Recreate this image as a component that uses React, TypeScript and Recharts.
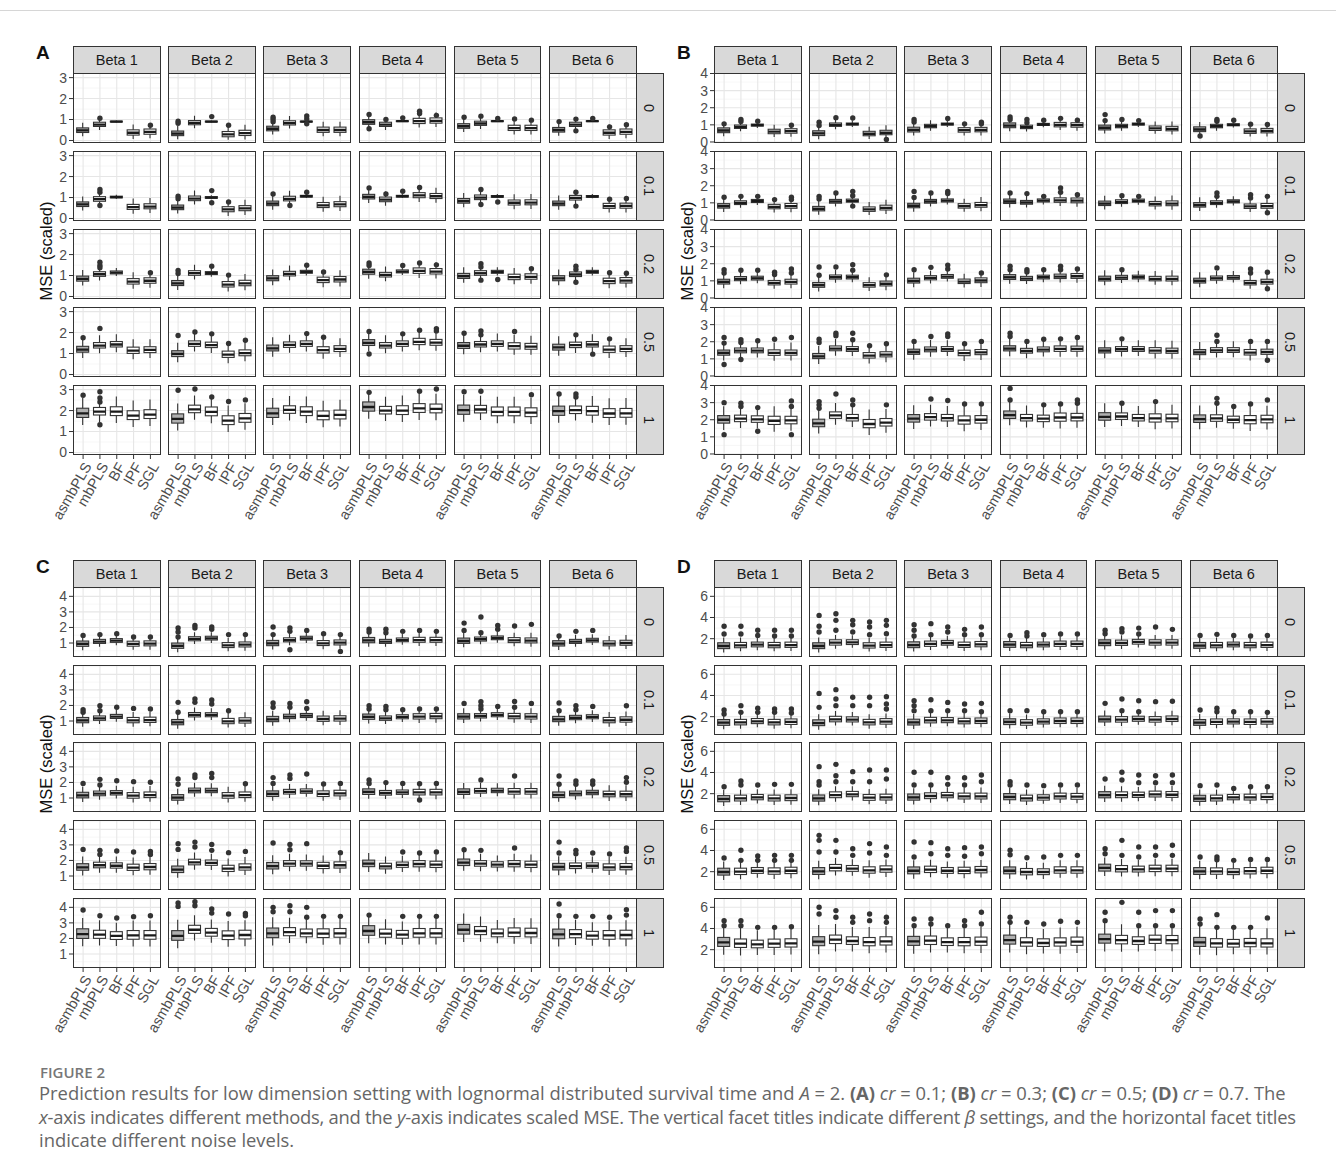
import React from 'react';
import { ComposedChart, Bar, Scatter, XAxis, YAxis, CartesianGrid } from 'recharts';

// ---- labels ----
const methods = ['asmbPLS', 'mbPLS', 'BF', 'IPF', 'SGL'];
const betas = ['Beta 1', 'Beta 2', 'Beta 3', 'Beta 4', 'Beta 5', 'Beta 6'];
const noiseLevels = ['0', '0.1', '0.2', '0.5', '1'];

// ---- medians: [noise row][beta][method] ----
const medA = [
  [[0.48, 0.76, 0.9, 0.37, 0.41], [0.33, 0.84, 0.9, 0.29, 0.35], [0.56, 0.83, 0.9, 0.5, 0.5], [0.87, 0.76, 0.92, 0.92, 0.94], [0.68, 0.81, 0.92, 0.59, 0.59], [0.5, 0.76, 0.92, 0.37, 0.41]],
  [[0.67, 0.92, 1.02, 0.54, 0.57], [0.52, 0.95, 1.0, 0.43, 0.48], [0.71, 0.94, 1.06, 0.63, 0.67], [1.03, 0.9, 1.06, 1.1, 1.06], [0.83, 1.0, 1.05, 0.75, 0.76], [0.71, 0.98, 1.05, 0.59, 0.6]],
  [[0.84, 1.06, 1.14, 0.71, 0.75], [0.63, 1.11, 1.11, 0.57, 0.63], [0.86, 1.08, 1.17, 0.78, 0.81], [1.17, 1.03, 1.19, 1.22, 1.19], [0.97, 1.11, 1.17, 0.92, 0.94], [0.86, 1.05, 1.17, 0.73, 0.76]],
  [[1.19, 1.38, 1.43, 1.14, 1.17], [0.98, 1.46, 1.4, 0.95, 1.02], [1.25, 1.41, 1.46, 1.16, 1.22], [1.51, 1.38, 1.46, 1.56, 1.52], [1.37, 1.43, 1.46, 1.35, 1.33], [1.29, 1.4, 1.43, 1.19, 1.22]],
  [[1.87, 1.95, 1.95, 1.76, 1.81], [1.6, 2.06, 1.94, 1.52, 1.63], [1.87, 2.03, 1.95, 1.75, 1.79], [2.17, 2.0, 2.0, 2.1, 2.08], [2.02, 2.05, 1.94, 1.94, 1.9], [1.97, 2.02, 1.97, 1.86, 1.87]],
];
const medB = [
  [[0.67, 0.88, 0.98, 0.6, 0.63], [0.5, 1.0, 1.04, 0.48, 0.54], [0.71, 0.92, 1.04, 0.69, 0.71], [0.96, 0.87, 1.02, 1.0, 0.98], [0.83, 0.92, 1.04, 0.79, 0.77], [0.73, 0.92, 1.0, 0.62, 0.65]],
  [[0.81, 1.0, 1.1, 0.77, 0.81], [0.65, 1.08, 1.12, 0.62, 0.71], [0.83, 1.08, 1.13, 0.81, 0.87], [1.08, 1.02, 1.13, 1.15, 1.13], [0.96, 1.06, 1.12, 0.94, 0.96], [0.87, 1.0, 1.08, 0.79, 0.81]],
  [[0.94, 1.12, 1.15, 0.88, 0.94], [0.75, 1.21, 1.21, 0.75, 0.83], [1.0, 1.17, 1.25, 0.96, 1.02], [1.21, 1.13, 1.21, 1.25, 1.27], [1.12, 1.19, 1.21, 1.12, 1.12], [1.0, 1.15, 1.19, 0.88, 0.94]],
  [[1.35, 1.48, 1.48, 1.35, 1.35], [1.15, 1.6, 1.56, 1.19, 1.25], [1.4, 1.54, 1.56, 1.33, 1.38], [1.6, 1.46, 1.54, 1.58, 1.58], [1.48, 1.56, 1.56, 1.48, 1.46], [1.38, 1.5, 1.5, 1.37, 1.4]],
  [[2.0, 2.06, 2.02, 1.94, 1.96], [1.79, 2.25, 2.1, 1.75, 1.83], [2.06, 2.15, 2.1, 1.96, 2.0], [2.27, 2.1, 2.06, 2.13, 2.13], [2.17, 2.19, 2.1, 2.08, 2.08], [2.04, 2.08, 2.0, 1.98, 2.02]],
];
const medC = [
  [[0.94, 1.09, 1.15, 0.94, 0.96], [0.81, 1.26, 1.3, 0.85, 0.89], [0.98, 1.19, 1.3, 0.98, 1.02], [1.17, 1.09, 1.19, 1.19, 1.19], [1.13, 1.24, 1.32, 1.17, 1.15], [0.96, 1.09, 1.17, 0.96, 1.0]],
  [[1.04, 1.17, 1.28, 1.04, 1.06], [0.91, 1.39, 1.39, 0.98, 1.02], [1.11, 1.28, 1.34, 1.13, 1.15], [1.26, 1.17, 1.26, 1.28, 1.3], [1.28, 1.32, 1.39, 1.3, 1.28], [1.11, 1.21, 1.26, 1.04, 1.08]],
  [[1.17, 1.28, 1.32, 1.15, 1.19], [1.02, 1.47, 1.47, 1.15, 1.19], [1.26, 1.39, 1.43, 1.26, 1.3], [1.39, 1.32, 1.36, 1.36, 1.36], [1.39, 1.45, 1.47, 1.41, 1.41], [1.19, 1.28, 1.34, 1.24, 1.24]],
  [[1.56, 1.69, 1.66, 1.54, 1.58], [1.41, 1.88, 1.84, 1.47, 1.56], [1.64, 1.79, 1.79, 1.66, 1.69], [1.79, 1.62, 1.71, 1.77, 1.73], [1.86, 1.79, 1.73, 1.77, 1.73], [1.58, 1.64, 1.66, 1.56, 1.58]],
  [[2.28, 2.24, 2.16, 2.2, 2.2], [2.16, 2.56, 2.37, 2.18, 2.22], [2.33, 2.41, 2.33, 2.31, 2.33], [2.48, 2.31, 2.24, 2.33, 2.33], [2.56, 2.48, 2.33, 2.37, 2.35], [2.26, 2.28, 2.18, 2.2, 2.22]],
];
const medD = [
  [[1.31, 1.37, 1.43, 1.37, 1.4], [1.31, 1.62, 1.65, 1.34, 1.4], [1.4, 1.5, 1.59, 1.4, 1.46], [1.43, 1.37, 1.43, 1.5, 1.5], [1.59, 1.59, 1.69, 1.62, 1.62], [1.34, 1.37, 1.43, 1.37, 1.4]],
  [[1.43, 1.46, 1.56, 1.46, 1.5], [1.4, 1.75, 1.72, 1.46, 1.53], [1.46, 1.65, 1.65, 1.56, 1.59], [1.5, 1.43, 1.53, 1.59, 1.59], [1.75, 1.72, 1.78, 1.72, 1.78], [1.43, 1.5, 1.53, 1.5, 1.53]],
  [[1.5, 1.56, 1.65, 1.56, 1.59], [1.56, 1.87, 1.94, 1.62, 1.65], [1.65, 1.78, 1.84, 1.75, 1.75], [1.69, 1.56, 1.62, 1.75, 1.72], [1.87, 1.87, 1.87, 1.94, 1.9], [1.53, 1.56, 1.65, 1.65, 1.69]],
  [[1.97, 2.0, 2.09, 2.03, 2.09], [2.03, 2.35, 2.28, 2.13, 2.22], [2.09, 2.19, 2.09, 2.09, 2.16], [2.09, 1.97, 1.97, 2.13, 2.13], [2.35, 2.25, 2.22, 2.28, 2.28], [2.03, 2.03, 1.97, 2.06, 2.09]],
  [[2.69, 2.57, 2.5, 2.57, 2.6], [2.76, 2.94, 2.82, 2.72, 2.79], [2.79, 2.85, 2.72, 2.72, 2.76], [2.91, 2.69, 2.63, 2.69, 2.76], [3.0, 2.91, 2.82, 2.94, 2.91], [2.69, 2.6, 2.57, 2.63, 2.6]],
];

// ---- box heights (IQR) and whisker reach beyond the box, per noise row and method ----
const iqrA = [[0.22, 0.2, 0.04, 0.25, 0.25], [0.22, 0.22, 0.08, 0.24, 0.24], [0.24, 0.22, 0.14, 0.26, 0.26], [0.28, 0.26, 0.26, 0.3, 0.28], [0.44, 0.36, 0.42, 0.42, 0.42]];
const whA = [[0.42, 0.4, 0.06, 0.45, 0.45], [0.45, 0.45, 0.12, 0.48, 0.48], [0.5, 0.48, 0.25, 0.52, 0.52], [0.65, 0.6, 0.6, 0.65, 0.62], [0.85, 0.8, 0.85, 0.85, 0.85]];
const iqrB = [[0.28, 0.2, 0.12, 0.26, 0.26], [0.26, 0.22, 0.18, 0.26, 0.28], [0.28, 0.24, 0.22, 0.26, 0.28], [0.3, 0.28, 0.28, 0.32, 0.3], [0.44, 0.38, 0.38, 0.48, 0.44]];
const whB = [[0.5, 0.4, 0.25, 0.45, 0.5], [0.55, 0.45, 0.35, 0.5, 0.55], [0.6, 0.5, 0.45, 0.55, 0.6], [0.75, 0.7, 0.65, 0.75, 0.75], [0.95, 0.9, 0.85, 1.0, 0.95]];
const iqrC = [[0.34, 0.26, 0.24, 0.32, 0.32], [0.34, 0.28, 0.26, 0.34, 0.34], [0.36, 0.3, 0.28, 0.36, 0.36], [0.42, 0.36, 0.34, 0.4, 0.4], [0.62, 0.52, 0.5, 0.56, 0.56]];
const whC = [[0.6, 0.5, 0.45, 0.55, 0.58], [0.62, 0.55, 0.5, 0.6, 0.6], [0.65, 0.6, 0.55, 0.65, 0.65], [0.8, 0.75, 0.7, 0.75, 0.75], [1.2, 1.1, 1.0, 1.1, 1.1]];
const iqrD = [[0.55, 0.5, 0.45, 0.5, 0.5], [0.55, 0.52, 0.48, 0.52, 0.52], [0.58, 0.55, 0.5, 0.55, 0.55], [0.65, 0.6, 0.55, 0.6, 0.6], [0.85, 0.8, 0.72, 0.78, 0.78]];
const whD = [[0.85, 0.8, 0.75, 0.8, 0.8], [0.9, 0.85, 0.8, 0.85, 0.85], [0.95, 0.9, 0.85, 0.9, 0.9], [1.1, 1.05, 1.0, 1.05, 1.05], [1.9, 1.8, 1.6, 1.7, 1.7]];

// ---- outliers: [row, beta, method, ...values] ----
const outA = [
  [0, 0, 1, 1.06], [0, 0, 4, 0.73],
  [0, 1, 0, 0.92, 0.82], [0, 1, 2, 1.14], [0, 1, 3, 0.73],
  [0, 2, 0, 1.11, 1.0, 0.89], [0, 2, 2, 1.17, 1.03, 0.8],
  [0, 3, 0, 1.24, 0.56], [0, 3, 1, 1.0], [0, 3, 2, 1.08], [0, 3, 3, 1.4, 1.29], [0, 3, 4, 1.2],
  [0, 4, 0, 1.11], [0, 4, 1, 1.16], [0, 4, 2, 1.05], [0, 4, 3, 1.03], [0, 4, 4, 0.97],
  [0, 5, 0, 0.9], [0, 5, 1, 1.02, 0.46], [0, 5, 2, 1.05], [0, 5, 3, 0.65], [0, 5, 4, 0.75],
  [1, 0, 1, 1.38, 1.25, 0.62],
  [1, 1, 0, 1.06, 0.94], [1, 1, 2, 1.33, 0.75], [1, 1, 3, 0.79],
  [1, 2, 0, 1.17], [1, 2, 1, 0.62], [1, 2, 2, 1.25],
  [1, 3, 0, 1.46], [1, 3, 1, 1.17], [1, 3, 2, 1.3], [1, 3, 3, 1.48],
  [1, 4, 1, 1.38, 0.67], [1, 4, 2, 0.79],
  [1, 5, 1, 1.25, 0.59], [1, 5, 3, 0.92], [1, 5, 4, 0.95],
  [2, 0, 1, 1.63, 1.48, 1.37], [2, 0, 4, 1.13],
  [2, 1, 0, 1.24, 1.1], [2, 1, 2, 1.44], [2, 1, 3, 1.02],
  [2, 2, 2, 1.49], [2, 2, 3, 1.17],
  [2, 3, 0, 1.6, 1.48], [2, 3, 2, 1.48], [2, 3, 3, 1.6], [2, 3, 4, 1.51],
  [2, 4, 1, 1.56, 1.41, 0.78], [2, 4, 2, 0.81], [2, 4, 4, 1.32],
  [2, 5, 1, 1.44, 1.29, 0.68], [2, 5, 3, 1.13], [2, 5, 4, 1.11],
  [3, 0, 0, 1.75], [3, 0, 1, 2.2],
  [3, 1, 0, 1.86], [3, 1, 1, 2.03], [3, 1, 2, 1.94], [3, 1, 3, 1.48], [3, 1, 4, 1.63],
  [3, 2, 2, 1.95], [3, 2, 3, 1.78],
  [3, 3, 0, 2.05, 0.98], [3, 3, 2, 1.94], [3, 3, 3, 2.11], [3, 3, 4, 2.19, 2.08],
  [3, 4, 0, 1.97], [3, 4, 1, 2.08, 1.89], [3, 4, 3, 2.05],
  [3, 5, 1, 1.89], [3, 5, 2, 0.97], [3, 5, 3, 1.7],
  [4, 0, 0, 2.73], [4, 0, 1, 2.9, 2.6, 2.41, 1.32],
  [4, 1, 0, 2.97], [4, 1, 1, 3.03], [4, 1, 2, 2.65], [4, 1, 3, 2.43], [4, 1, 4, 2.51],
  [4, 3, 0, 2.87], [4, 3, 3, 2.92], [4, 3, 4, 3.03],
  [4, 4, 0, 2.9], [4, 4, 1, 2.92], [4, 4, 4, 2.76],
  [4, 5, 0, 2.79], [4, 5, 1, 2.79, 2.65],
];
const outB = [
  [0, 0, 0, 1.06], [0, 0, 1, 1.31, 1.19], [0, 0, 2, 1.21], [0, 0, 4, 0.98],
  [0, 1, 0, 1.15, 0.96], [0, 1, 1, 1.42], [0, 1, 2, 1.4], [0, 1, 4, 0.15],
  [0, 2, 0, 1.31, 1.17], [0, 2, 2, 1.37], [0, 2, 3, 1.06], [0, 2, 4, 1.15, 1.06],
  [0, 3, 0, 1.46, 1.31], [0, 3, 1, 1.31, 1.12], [0, 3, 2, 1.27], [0, 3, 3, 1.38], [0, 3, 4, 1.27],
  [0, 4, 0, 1.6, 1.25], [0, 4, 1, 1.31], [0, 4, 2, 1.25],
  [0, 5, 0, 0.35], [0, 5, 1, 1.31, 1.21], [0, 5, 2, 1.27], [0, 5, 3, 1.04], [0, 5, 4, 1.02],
  [1, 0, 0, 1.33], [1, 0, 1, 1.38], [1, 0, 2, 1.38], [1, 0, 3, 1.19], [1, 0, 4, 1.33, 1.19],
  [1, 1, 0, 1.38, 1.23], [1, 1, 1, 1.58], [1, 1, 2, 1.67, 1.42, 0.81],
  [1, 2, 0, 1.67, 1.31], [1, 2, 1, 1.58], [1, 2, 2, 1.67, 1.54],
  [1, 3, 0, 1.58], [1, 3, 1, 1.54], [1, 3, 2, 1.38], [1, 3, 3, 1.87, 1.62], [1, 3, 4, 1.48],
  [1, 4, 1, 1.42], [1, 4, 2, 1.38],
  [1, 5, 1, 1.58, 1.38], [1, 5, 3, 1.48, 1.29], [1, 5, 4, 1.38, 0.42],
  [2, 0, 0, 1.65, 1.46], [2, 0, 1, 1.62], [2, 0, 2, 1.62], [2, 0, 3, 1.5, 1.37], [2, 0, 4, 1.69, 1.46],
  [2, 1, 0, 1.81, 1.33], [2, 1, 1, 1.81], [2, 1, 2, 1.94, 1.62], [2, 1, 4, 1.35],
  [2, 2, 0, 1.65], [2, 2, 1, 1.79], [2, 2, 2, 1.92, 1.69], [2, 2, 4, 1.46],
  [2, 3, 0, 1.85, 1.65], [2, 3, 1, 1.65, 1.52], [2, 3, 2, 1.65], [2, 3, 3, 1.85, 1.65], [2, 3, 4, 1.69],
  [2, 4, 1, 1.65],
  [2, 5, 1, 1.75], [2, 5, 3, 1.69, 1.46], [2, 5, 4, 1.5, 0.54],
  [3, 0, 0, 2.25, 1.92, 0.67], [3, 0, 1, 2.12, 1.96, 0.96], [3, 0, 2, 2.06], [3, 0, 3, 2.15], [3, 0, 4, 2.25],
  [3, 1, 0, 2.15, 1.96], [3, 1, 1, 2.5, 2.35], [3, 1, 2, 2.5, 2.12], [3, 1, 3, 1.77], [3, 1, 4, 1.88],
  [3, 2, 0, 2.02], [3, 2, 1, 2.31], [3, 2, 2, 2.46, 2.31], [3, 2, 3, 1.88], [3, 2, 4, 2.02],
  [3, 3, 0, 2.5, 2.31], [3, 3, 1, 2.02], [3, 3, 2, 2.15], [3, 3, 3, 2.17], [3, 3, 4, 2.25],
  [3, 4, 1, 2.17],
  [3, 5, 1, 2.38, 2.02], [3, 5, 3, 2.02], [3, 5, 4, 2.02, 0.92],
  [4, 0, 0, 3.0, 1.13], [4, 0, 1, 2.96, 2.77], [4, 0, 2, 2.71, 1.33], [4, 0, 4, 3.1, 2.77, 1.13],
  [4, 1, 0, 3.06, 2.87, 2.67], [4, 1, 1, 3.5], [4, 1, 2, 3.15, 2.87], [4, 1, 4, 2.87],
  [4, 2, 1, 3.21], [4, 2, 2, 3.12], [4, 2, 3, 2.92], [4, 2, 4, 2.92],
  [4, 3, 0, 3.83, 3.15], [4, 3, 2, 2.87], [4, 3, 3, 2.92], [4, 3, 4, 3.15, 2.96],
  [4, 4, 1, 2.96], [4, 4, 3, 3.06],
  [4, 5, 1, 3.25, 2.96], [4, 5, 2, 2.77], [4, 5, 3, 2.92], [4, 5, 4, 3.15],
];
const outC = [
  [0, 0, 0, 1.49], [0, 0, 1, 1.54], [0, 0, 2, 1.6], [0, 0, 3, 1.39], [0, 0, 4, 1.39],
  [0, 1, 0, 1.96, 1.71, 1.39], [0, 1, 1, 2.13, 1.96], [0, 1, 2, 2.03, 1.88], [0, 1, 3, 1.54], [0, 1, 4, 1.54],
  [0, 2, 0, 2.03, 1.54], [0, 2, 1, 1.96, 1.75, 0.57], [0, 2, 2, 1.81], [0, 2, 3, 1.6], [0, 2, 4, 1.54, 0.46],
  [0, 3, 0, 1.88, 1.71], [0, 3, 1, 1.88, 1.66], [0, 3, 2, 1.75], [0, 3, 3, 1.81], [0, 3, 4, 1.75],
  [0, 4, 0, 2.28, 1.81], [0, 4, 1, 2.67, 1.66], [0, 4, 2, 2.13, 1.88], [0, 4, 3, 2.09], [0, 4, 4, 2.2],
  [0, 5, 0, 1.45], [0, 5, 1, 1.75], [0, 5, 2, 1.81],
  [1, 0, 0, 1.73, 1.56], [1, 0, 1, 1.98, 1.66], [1, 0, 2, 1.88], [1, 0, 3, 1.81], [1, 0, 4, 1.77],
  [1, 1, 0, 2.2, 1.56], [1, 1, 1, 2.41, 2.2], [1, 1, 2, 2.35, 2.09], [1, 1, 3, 1.66],
  [1, 2, 0, 2.16, 1.88], [1, 2, 1, 2.13, 1.88], [1, 2, 2, 2.24, 1.81],
  [1, 3, 0, 1.98, 1.77], [1, 3, 1, 1.94, 1.73], [1, 3, 2, 1.73], [1, 3, 3, 1.77], [1, 3, 4, 1.77],
  [1, 4, 0, 2.13], [1, 4, 1, 2.24, 1.98, 1.77], [1, 4, 2, 1.94], [1, 4, 3, 2.26, 1.88], [1, 4, 4, 2.13],
  [1, 5, 0, 2.16, 1.66], [1, 5, 1, 1.98, 1.73], [1, 5, 2, 1.94], [1, 5, 4, 1.98],
  [2, 0, 0, 1.94], [2, 0, 1, 2.2, 1.84], [2, 0, 2, 2.11], [2, 0, 3, 2.05], [2, 0, 4, 2.01],
  [2, 1, 0, 2.22, 1.88], [2, 1, 1, 2.48, 2.31], [2, 1, 2, 2.58, 2.31], [2, 1, 4, 1.92],
  [2, 2, 0, 2.31, 1.94], [2, 2, 1, 2.48, 2.26], [2, 2, 2, 2.54], [2, 2, 3, 1.9], [2, 2, 4, 1.94],
  [2, 3, 0, 2.16, 1.94], [2, 3, 1, 1.99], [2, 3, 2, 1.94], [2, 3, 3, 1.92, 0.87], [2, 3, 4, 1.94],
  [2, 4, 1, 2.16], [2, 4, 3, 2.41],
  [2, 5, 0, 2.41, 1.88], [2, 5, 1, 2.09, 1.88], [2, 5, 2, 2.09, 1.88], [2, 5, 4, 2.31, 2.01],
  [3, 0, 0, 2.71], [3, 0, 1, 2.65, 2.39], [3, 0, 2, 2.61], [3, 0, 3, 2.54], [3, 0, 4, 2.58, 2.39],
  [3, 1, 0, 3.08, 2.71], [3, 1, 1, 3.18, 2.86], [3, 1, 2, 3.03, 2.65], [3, 1, 3, 2.5], [3, 1, 4, 2.58],
  [3, 2, 0, 3.12], [3, 2, 1, 3.03, 2.69], [3, 2, 2, 3.08], [3, 2, 4, 2.5],
  [3, 3, 2, 2.54], [3, 3, 3, 2.48], [3, 3, 4, 2.54],
  [3, 4, 0, 2.69], [3, 4, 1, 2.65], [3, 4, 3, 2.8],
  [3, 5, 0, 3.18, 2.48], [3, 5, 1, 2.65, 2.43], [3, 5, 2, 2.48], [3, 5, 3, 2.41], [3, 5, 4, 2.8, 2.58],
  [4, 0, 0, 3.83], [4, 0, 1, 3.46], [4, 0, 2, 3.31], [4, 0, 3, 3.4], [4, 0, 4, 3.46],
  [4, 1, 0, 4.28, 4.06], [4, 1, 1, 4.36, 4.1], [4, 1, 2, 3.89, 3.63], [4, 1, 3, 3.57], [4, 1, 4, 3.61, 3.46],
  [4, 2, 0, 4.0, 3.72], [4, 2, 1, 4.1, 3.72], [4, 2, 2, 4.0, 3.36], [4, 2, 3, 3.42], [4, 2, 4, 3.42],
  [4, 3, 0, 3.5], [4, 3, 2, 3.42], [4, 3, 3, 3.42], [4, 3, 4, 3.42],
  [4, 5, 0, 4.21, 3.46], [4, 5, 1, 3.42], [4, 5, 2, 3.42], [4, 5, 3, 3.36], [4, 5, 4, 3.85, 3.5],
];
const outD = [
  [0, 0, 0, 3.17, 2.44], [0, 0, 1, 3.17, 2.44], [0, 0, 2, 2.79, 2.31], [0, 0, 3, 2.79, 2.25], [0, 0, 4, 2.79, 2.25],
  [0, 1, 0, 4.2, 3.17, 2.63], [0, 1, 1, 4.36, 3.73, 2.79], [0, 1, 2, 3.73, 3.32, 2.63], [0, 1, 3, 3.57, 3.1, 2.38], [0, 1, 4, 3.73, 3.26, 2.47],
  [0, 2, 0, 3.32, 2.79, 2.25], [0, 2, 1, 3.42, 2.38], [0, 2, 2, 3.1, 2.63], [0, 2, 3, 2.88, 2.38], [0, 2, 4, 3.1, 2.38],
  [0, 3, 0, 2.31], [0, 3, 1, 2.57, 2.25], [0, 3, 2, 2.38], [0, 3, 3, 2.44], [0, 3, 4, 2.44],
  [0, 4, 0, 2.79, 2.47], [0, 4, 1, 2.94, 2.63], [0, 4, 2, 3.0, 2.44], [0, 4, 3, 3.1], [0, 4, 4, 2.88],
  [0, 5, 0, 2.31], [0, 5, 1, 2.41], [0, 5, 2, 2.31], [0, 5, 3, 2.25], [0, 5, 4, 2.31],
  [1, 0, 0, 2.63, 2.25], [1, 0, 1, 3.04, 2.41], [1, 0, 2, 2.79, 2.41], [1, 0, 3, 2.72, 2.41], [1, 0, 4, 2.72, 2.35],
  [1, 1, 0, 4.2, 2.88], [1, 1, 1, 4.55, 3.67, 3.04], [1, 1, 2, 3.83, 3.04], [1, 1, 3, 3.83, 3.04], [1, 1, 4, 3.89, 3.2, 2.72],
  [1, 2, 0, 3.51, 3.04, 2.57], [1, 2, 1, 3.6, 2.57], [1, 2, 2, 3.35, 2.57], [1, 2, 3, 3.2, 2.57], [1, 2, 4, 3.26, 2.47],
  [1, 3, 0, 2.57], [1, 3, 1, 2.57], [1, 3, 2, 2.47], [1, 3, 3, 2.47], [1, 3, 4, 2.47],
  [1, 4, 0, 3.26], [1, 4, 1, 3.67, 2.57], [1, 4, 2, 3.51, 2.47], [1, 4, 3, 3.42], [1, 4, 4, 3.45],
  [1, 5, 0, 2.63], [1, 5, 1, 2.79, 2.47], [1, 5, 2, 2.47], [1, 5, 3, 2.47], [1, 5, 4, 2.41],
  [2, 0, 0, 2.66], [2, 0, 1, 3.2, 2.82], [2, 0, 2, 2.82], [2, 0, 3, 2.88], [2, 0, 4, 2.88],
  [2, 1, 0, 4.55, 3.13, 2.82], [2, 1, 1, 4.77, 3.7, 3.13], [2, 1, 2, 4.08, 3.13], [2, 1, 3, 4.24, 3.13], [2, 1, 4, 4.24, 3.39],
  [2, 2, 0, 4.02, 2.82], [2, 2, 1, 4.02, 2.82], [2, 2, 2, 3.51, 2.88], [2, 2, 3, 3.51, 2.82], [2, 2, 4, 3.76, 3.13],
  [2, 3, 0, 3.13, 2.82], [2, 3, 1, 2.82], [2, 3, 2, 2.76], [2, 3, 3, 2.82], [2, 3, 4, 2.82],
  [2, 4, 0, 3.39], [2, 4, 1, 4.02, 3.29], [2, 4, 2, 3.76, 3.04], [2, 4, 3, 3.7, 3.04], [2, 4, 4, 3.76, 3.04],
  [2, 5, 0, 2.76], [2, 5, 1, 2.82], [2, 5, 2, 2.5], [2, 5, 3, 2.66], [2, 5, 4, 2.66],
  [3, 0, 0, 3.29], [3, 0, 1, 4.02, 3.07], [3, 0, 2, 3.48, 3.07], [3, 0, 3, 3.54, 3.07], [3, 0, 4, 3.54, 3.07],
  [3, 1, 0, 5.43, 4.96, 3.86], [3, 1, 1, 4.96, 3.86], [3, 1, 2, 4.17, 3.54], [3, 1, 3, 4.65, 3.76], [3, 1, 4, 4.33, 3.54],
  [3, 2, 0, 4.8, 3.39], [3, 2, 1, 4.74, 3.7], [3, 2, 2, 4.17, 3.54], [3, 2, 3, 4.27, 3.45], [3, 2, 4, 4.33, 3.7],
  [3, 3, 0, 4.02, 3.6], [3, 3, 1, 3.32], [3, 3, 2, 3.39], [3, 3, 3, 3.54], [3, 3, 4, 3.54],
  [3, 4, 0, 4.17, 3.7], [3, 4, 1, 4.96, 3.54], [3, 4, 2, 4.33, 3.39], [3, 4, 3, 4.33, 3.54], [3, 4, 4, 4.49, 3.54],
  [3, 5, 0, 3.39], [3, 5, 1, 3.39, 3.13], [3, 5, 2, 3.07], [3, 5, 3, 3.16], [3, 5, 4, 3.16],
  [4, 0, 0, 4.74, 4.27], [4, 0, 1, 4.74, 4.27], [4, 0, 2, 4.11], [4, 0, 3, 4.11], [4, 0, 4, 4.17],
  [4, 1, 0, 6.0, 5.37], [4, 1, 1, 5.69, 5.06], [4, 1, 2, 5.06, 4.58], [4, 1, 3, 5.37, 4.74], [4, 1, 4, 5.06, 4.58],
  [4, 2, 0, 4.9, 4.27], [4, 2, 1, 4.9, 4.43], [4, 2, 2, 4.27], [4, 2, 3, 4.74, 4.27], [4, 2, 4, 5.53, 4.43],
  [4, 3, 0, 5.06, 4.58], [4, 3, 1, 4.58], [4, 3, 2, 4.43], [4, 3, 3, 4.68], [4, 3, 4, 4.58],
  [4, 4, 0, 5.53, 4.74], [4, 4, 1, 6.47], [4, 4, 2, 5.53, 4.27], [4, 4, 3, 5.69, 4.27], [4, 4, 4, 5.69, 4.27],
  [4, 5, 0, 4.9, 4.43], [4, 5, 1, 5.31, 4.11], [4, 5, 2, 4.11], [4, 5, 3, 4.11], [4, 5, 4, 5.0],
];

// ---- layout ----
const COL_STEP = 95.2;
const FACET_W = 87.5;
const FACET_H = 70;
const STRIP = 27;
const Y_W = 30;
const X_H = 64;
const FONT = '"Liberation Sans", Arial, Helvetica, sans-serif';

const PANELS = [
  { label: 'A', left: 73, top: 73, rowStep: 78, med: medA, iqr: iqrA, wh: whA, out: outA, domain: [-0.12, 3.22], ticks: [0, 1, 2, 3], minor: [0.5, 1.5, 2.5] },
  { label: 'B', left: 714, top: 73, rowStep: 78, med: medB, iqr: iqrB, wh: whB, out: outB, domain: [-0.06, 4.03], ticks: [0, 1, 2, 3, 4], minor: [0.5, 1.5, 2.5, 3.5] },
  { label: 'C', left: 73, top: 587, rowStep: 77.7, med: medC, iqr: iqrC, wh: whC, out: outC, domain: [0.1, 4.6], ticks: [1, 2, 3, 4], minor: [0.5, 1.5, 2.5, 3.5, 4.5] },
  { label: 'D', left: 714, top: 587, rowStep: 77.7, med: medD, iqr: iqrD, wh: whD, out: outD, domain: [0.27, 6.88], ticks: [2, 4, 6], minor: [1, 3, 5] },
];

function buildBoxes(med: number[], iqr: number[], wh: number[]) {
  return med.map((m, i) => {
    const q1 = m - iqr[i] * 0.45;
    const q3 = m + iqr[i] * 0.55;
    return {
      x: i + 1,
      method: methods[i],
      med: m,
      q1,
      q3,
      lo: Math.max(0.04, q1 - wh[i] * 0.42),
      hi: q3 + wh[i] * 0.58,
      fill: i === 0 ? '#b0b0b0' : '#ffffff',
    };
  });
}

const BoxShape = (props: any) => {
  const { x, y, width, height, payload } = props;
  if (!payload || width == null) return null;
  const top = Math.min(y, y + height);
  const bot = Math.max(y, y + height);
  const { lo, hi, q1, q3, med, fill } = payload;
  const py = (v: number) => bot - ((v - lo) / (hi - lo)) * (bot - top);
  const cx = x + width / 2;
  return (
    <g>
      <line x1={cx} x2={cx} y1={py(hi)} y2={py(lo)} stroke="#333333" strokeWidth={1.1} />
      <rect x={x} y={py(q3)} width={width} height={Math.max(0.5, py(q1) - py(q3))} fill={fill} stroke="#333333" strokeWidth={1.1} />
      <line x1={x} x2={x + width} y1={py(med)} y2={py(med)} stroke="#1a1a1a" strokeWidth={2.3} />
    </g>
  );
};

const OutlierDot = (props: any) => {
  const { cx, cy } = props;
  if (cx == null || cy == null) return null;
  return <circle cx={cx} cy={cy} r={2.7} fill="#333333" />;
};

const XTick = (props: any) => {
  const { x, y, payload } = props;
  return (
    <text x={x} y={y} dy="0.72em" textAnchor="end" transform={`rotate(-60, ${x}, ${y})`} fill="#4d4d4d" fontSize={14.5} fontFamily={FONT}>
      {methods[payload.value - 1]}
    </text>
  );
};

function Facet({ p, r, c }: { p: any; r: number; c: number }) {
  const showY = c === 0;
  const showX = r === 4;
  const left = p.left + c * COL_STEP - (showY ? Y_W : 0);
  const top = p.top + r * p.rowStep;
  const boxes = buildBoxes(p.med[r][c], p.iqr[r], p.wh[r]);
  const outs = p.out
    .filter((o: number[]) => o[0] === r && o[1] === c)
    .flatMap((o: number[]) => o.slice(3).map((v) => ({ x: o[2] + 1, v })));
  return (
    <div style={{ position: 'absolute', left, top }}>
      <ComposedChart
        width={FACET_W + (showY ? Y_W : 0)}
        height={FACET_H + (showX ? X_H : 0)}
        data={boxes}
        margin={{ top: 0, right: 0, bottom: 0, left: 0 }}
      >
        <CartesianGrid horizontalValues={p.minor} vertical={false} stroke="#f3f3f3" strokeWidth={0.7} />
        <CartesianGrid horizontalValues={p.ticks} verticalValues={[1, 2, 3, 4, 5]} stroke="#e6e6e6" strokeWidth={1.1} />
        <XAxis
          type="number"
          dataKey="x"
          domain={[0.4, 5.6]}
          ticks={[1, 2, 3, 4, 5]}
          allowDataOverflow
          hide={!showX}
          height={X_H}
          axisLine={false}
          tickLine={{ stroke: '#333333' }}
          tickSize={4}
          tick={<XTick />}
          interval={0}
        />
        <YAxis
          type="number"
          domain={p.domain}
          ticks={p.ticks}
          allowDataOverflow
          hide={!showY}
          width={Y_W}
          axisLine={false}
          tickLine={{ stroke: '#333333' }}
          tickSize={4}
          tick={{ fill: '#4d4d4d', fontSize: 14, fontFamily: FONT }}
          interval={0}
        />
        <Bar dataKey={(d: any) => [d.lo, d.hi]} shape={(props: any) => <BoxShape {...props} />} barSize={12} isAnimationActive={false} />
        <Scatter data={outs} dataKey="v" shape={(props: any) => <OutlierDot {...props} />} isAnimationActive={false} />
      </ComposedChart>
      <div
        style={{
          position: 'absolute',
          left: showY ? Y_W : 0,
          top: 0,
          width: FACET_W,
          height: FACET_H,
          border: '1px solid #333333',
          boxSizing: 'border-box',
          pointerEvents: 'none',
        }}
      />
    </div>
  );
}

function Panel({ p }: { p: any }) {
  const stripTop = p.top - STRIP;
  const bottom = p.top + 4 * p.rowStep + FACET_H;
  const titleCy = (stripTop + bottom) / 2;
  const rightX = p.left + 5 * COL_STEP + FACET_W;
  return (
    <>
      <div style={{ position: 'absolute', left: p.left - 37, top: stripTop - 4, fontSize: 19, fontWeight: 'bold', color: '#111', fontFamily: FONT }}>
        {p.label}
      </div>
      <div
        style={{
          position: 'absolute',
          left: p.left - 27 - 100,
          top: titleCy - 10,
          width: 200,
          height: 20,
          lineHeight: '20px',
          textAlign: 'center',
          fontSize: 16.5,
          color: '#111',
          fontFamily: FONT,
          transform: 'rotate(-90deg)',
        }}
      >
        MSE (scaled)
      </div>
      {betas.map((b, c) => (
        <div
          key={b}
          style={{
            position: 'absolute',
            left: p.left + c * COL_STEP,
            top: stripTop,
            width: FACET_W,
            height: STRIP + 1,
            background: '#d9d9d9',
            border: '1px solid #333333',
            boxSizing: 'border-box',
            textAlign: 'center',
            lineHeight: `${STRIP - 1}px`,
            fontSize: 14.5,
            color: '#1a1a1a',
            fontFamily: FONT,
          }}
        >
          {b}
        </div>
      ))}
      {noiseLevels.map((n, r) => (
        <div
          key={n}
          style={{
            position: 'absolute',
            left: rightX - 1,
            top: p.top + r * p.rowStep,
            width: STRIP + 1,
            height: FACET_H,
            background: '#d9d9d9',
            border: '1px solid #333333',
            boxSizing: 'border-box',
            display: 'flex',
            alignItems: 'center',
            justifyContent: 'center',
          }}
        >
          <span style={{ display: 'inline-block', transform: 'rotate(90deg)', fontSize: 14.5, color: '#1a1a1a', fontFamily: FONT, whiteSpace: 'nowrap' }}>{n}</span>
        </div>
      ))}
      {noiseLevels.map((n, r) => betas.map((b, c) => <Facet key={`${n}-${b}`} p={p} r={r} c={c} />))}
    </>
  );
}

function Caption() {
  const cap = { fontFamily: '"Open Sans", "Noto Sans", sans-serif', color: '#666666' };
  return (
    <>
      <div style={{ ...cap, position: 'absolute', left: 40, top: 1062, fontSize: 15, fontWeight: 600, color: '#777777' }}>FIGURE 2</div>
      <div style={{ ...cap, position: 'absolute', left: 39, top: 1081, fontSize: 18.4, lineHeight: '23.5px', whiteSpace: 'nowrap' }}>
        <div>
          Prediction results for low dimension setting with lognormal distributed survival time and <i>A</i> = 2. <b>(A)</b> <i>cr</i> = 0.1; <b>(B)</b>{' '}
          <i>cr</i> = 0.3; <b>(C)</b> <i>cr</i> = 0.5; <b>(D)</b> <i>cr</i> = 0.7. The
        </div>
        <div style={{ letterSpacing: '-0.26px' }}>
          <i>x</i>-axis indicates different methods, and the <i>y</i>-axis indicates scaled MSE. The vertical facet titles indicate different <i>β</i> settings, and
          the horizontal facet titles
        </div>
        <div>indicate different noise levels.</div>
      </div>
    </>
  );
}

export default function App() {
  return (
    <div style={{ position: 'absolute', left: 0, top: 0, width: 1336, height: 1172, background: '#ffffff', overflow: 'hidden' }}>
      <style>{'.recharts-surface{overflow:visible}.recharts-wrapper{overflow:visible}'}</style>
      <div style={{ position: 'absolute', left: 0, top: 10, width: 1336, height: 1, background: '#d6d6d6' }} />
      {PANELS.map((p) => (
        <Panel key={p.label} p={p} />
      ))}
      <Caption />
    </div>
  );
}
